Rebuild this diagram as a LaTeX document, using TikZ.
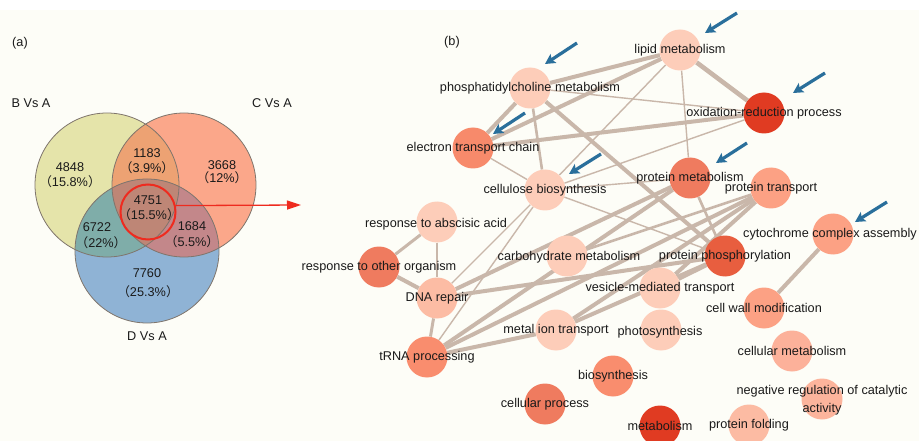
\documentclass[tikz,border=0pt]{standalone}
\usepackage{fontspec}
\setmainfont{Liberation Sans}
\newfontfamily\cjkf{Noto Sans CJK SC}
\usetikzlibrary{arrows.meta,backgrounds}
\definecolor{bgc}{HTML}{FDFDF7}
\definecolor{vB}{HTML}{E5E4AA}
\definecolor{vC}{HTML}{FBA78A}
\definecolor{vD}{HTML}{8FB3D5}
\definecolor{vBC}{HTML}{EDA273}
\definecolor{vBD}{HTML}{7FADA9}
\definecolor{vCD}{HTML}{C3878A}
\definecolor{vBCD}{HTML}{BE8676}
\definecolor{vline}{HTML}{7F756C}
\definecolor{hubred}{HTML}{EE2B1F}
\definecolor{edgec}{HTML}{C9B7AA}
\definecolor{arrc}{HTML}{2A6F9B}
\definecolor{cLight}{HTML}{FDCDB9}
\definecolor{cDark}{HTML}{E03B22}
\definecolor{cETC}{HTML}{F78A6B}
\definecolor{cPM}{HTML}{EF7B5F}
\definecolor{cPT}{HTML}{FCA184}
\definecolor{cDNA}{HTML}{FCBCA4}
\definecolor{cPP}{HTML}{E85E3F}
\definecolor{cCM}{HTML}{FCB19A}
\definecolor{cTR}{HTML}{F98D6E}
\definecolor{cNR}{HTML}{FCB49C}
\definecolor{cPF}{HTML}{FCBBA3}
\definecolor{txt}{HTML}{1A1A1A}
\begin{document}
\begin{tikzpicture}[x=1pt,y=-1pt,
  every node/.style={font=\fontsize{12.7}{15}\selectfont, text=txt},
  go/.style={circle,minimum size=41pt,inner sep=0pt,draw=none},
  lab/.style={inner sep=0pt},
  vl/.style={inner sep=0pt},
  eA/.style={draw=edgec,line width=1.4pt},
  eB/.style={draw=edgec,line width=2.6pt},
  eC/.style={draw=edgec,line width=4pt},
  barrow/.style={draw=arrc,line width=3.2pt,-{Stealth[length=10pt,width=10.5pt,inset=2pt]}},
  vcirc/.style={draw=vline,line width=0.8pt}]
\useasboundingbox (0,0) rectangle (919,441);
\begin{scope}[on background layer]
  \fill[white] (0,0) rectangle (919,441);
  \fill[bgc] (0,10) rectangle (919,441);
\end{scope}

% ---------- Venn (a)
\fill[vB] (107,185) circle (72pt);
\fill[vC] (184,185) circle (72pt);
\fill[vD] (147,251) circle (72pt);
\begin{scope}
  \clip (107,185) circle (72pt);
  \fill[vBC] (184,185) circle (72pt);
  \fill[vBD] (147,251) circle (72pt);
\end{scope}
\begin{scope}
  \clip (184,185) circle (72pt);
  \fill[vCD] (147,251) circle (72pt);
  \clip (107,185) circle (72pt);
  \fill[vBCD] (147,251) circle (72pt);
\end{scope}
\draw[vcirc] (107,185) circle (72pt);
\draw[vcirc] (184,185) circle (72pt);
\draw[vcirc] (147,251) circle (72pt);

\node[vl] (la) at (20,43) {(a)};
\node[vl] (lB) at (31,103) {B Vs A};
\node[vl] (lC) at (272,103) {C Vs A};
\node[vl] (lD) at (147,336) {D Vs A};
\node[vl] (n1a) at (70,167) {4848};
\node[vl] (n1b) at (70,182) {{\cjkf （}15.8\%{\cjkf ）}};
\node[vl] (n2a) at (147,153) {1183};
\node[vl] (n2b) at (147,168) {{\cjkf （}3.9\%{\cjkf ）}};
\node[vl] (n3a) at (222,165) {3668};
\node[vl] (n3b) at (222,178) {{\cjkf （}12\%{\cjkf ）}};
\node[vl] (n4a) at (148,200) {4751};
\node[vl] (n4b) at (149,215) {{\cjkf （}15.5\%{\cjkf ）}};
\node[vl] (n5a) at (97,227) {6722};
\node[vl] (n5b) at (101,243) {{\cjkf （}22\%{\cjkf ）}};
\node[vl] (n6a) at (192,226) {1684};
\node[vl] (n6b) at (192,242) {{\cjkf （}5.5\%{\cjkf ）}};
\node[vl] (n7a) at (147,273) {7760};
\node[vl] (n7b) at (148,292) {{\cjkf （}25.3\%{\cjkf ）}};

\node[circle,draw=hubred,line width=2pt,minimum size=55pt,inner sep=0pt] (hub) at (148,212) {};
\coordinate (hubend) at (301,205);
\draw[hubred,line width=1.3pt,-{Triangle[length=14pt,width=9pt]}] (hub.13) -- (hubend);

% ---------- network (b)
\node[lab] (lb) at (452,42) {(b)};

\node[go,fill=cLight] (lip) at (680,50) {};
\node[go,fill=cLight] (pc) at (530,88) {};
\node[go,fill=cDark] (oxr) at (764,113) {};
\node[go,fill=cETC] (etc) at (473,148) {};
\node[go,fill=cLight] (cb) at (545,190) {};
\node[go,fill=cPM] (pm) at (690,178) {};
\node[go,fill=cPT] (pt) at (771,188) {};
\node[go,fill=cPT] (cyto) at (833,234) {};
\node[go,fill=cLight] (aba) at (437,222) {};
\node[go,fill=cPM] (rtoo) at (379,267) {};
\node[go,fill=cDNA] (dna) at (437,298) {};
\node[go,fill=cLight] (carb) at (567,256) {};
\node[go,fill=cPP] (pp) at (725,256) {};
\node[go,fill=cLight] (ves) at (660,288) {};
\node[go,fill=cLight] (mit) at (556,330) {};
\node[go,fill=cLight] (pho) at (661,330) {};
\node[go,fill=cPT] (cwm) at (764,308) {};
\node[go,fill=cCM] (cmet) at (792,351) {};
\node[go,fill=cTR] (trna) at (427,357) {};
\node[go,fill=cTR] (bio) at (613,376) {};
\node[go,fill=cNR] (neg) at (822,399) {};
\node[go,fill=cPM] (cproc) at (545,404) {};
\node[go,fill=cDark] (met) at (660,426) {};
\node[go,fill=cPF] (pf) at (749,425) {};

\begin{scope}[on background layer]
  % thick
  \draw[eC] (pc) -- (lip);
  \draw[eC] (etc) -- (lip);
  \draw[eC] (etc) -- (oxr);
  \draw[eC,line width=4.6pt] (lip) -- (oxr);
  \draw[eC] (pc) -- (etc);
  \draw[eC] (pc) -- (pp);
  \draw[eC] (dna) -- (pm);
  \draw[eC] (dna) -- (pp);
  \draw[eC] (rtoo) -- (dna);
  \draw[eC] (trna) -- (mit);
  \draw[eC] (trna) -- (pt);
  \draw[eC] (trna) -- (pm);
  \draw[eC] (mit) -- (pt);
  \draw[eC] (mit) -- (pp);
  \draw[eC] (ves) -- (pt);
  \draw[eC] (ves) -- (pp);
  \draw[eC] (cyto) -- (cwm);
  % medium
  \draw[eB] (pc) -- (cb);
  \draw[eB,line width=3pt] (aba) -- (rtoo);
  \draw[eB] (aba) -- (dna);
  \draw[eB,line width=3pt] (dna) -- (trna);
  \draw[eB] (pm) -- (pp);
  \draw[eB] (carb) -- (pt);
  % thin
  \draw[eA] (pc) -- (oxr);
  \draw[eA] (lip) -- (cb);
  \draw[eA] (lip) -- (pm);
  \draw[eA] (etc) -- (cb);
  \draw[eA] (cb) -- (oxr);
  \draw[eA] (cb) -- (pm);
  \draw[eA] (cb) -- (pp);
  \draw[eA] (cb) -- (dna);
  \draw[eA] (cb) -- (trna);
\end{scope}

% labels
\node[lab] (t-lip) at (lip) {lipid metabolism};
\node[lab] (t-pc) at (pc) {phosphatidylcholine metabolism};
\node[lab] (t-oxr) at (oxr) {oxidation-reduction process};
\node[lab] (t-etc) at (etc) {electron transport chain};
\node[lab] (t-cb) at (cb) {cellulose biosynthesis};
\node[lab] (t-pm) at (pm) {protein metabolism};
\node[lab] (t-pt) at (pt) {protein transport};
\node[lab] (t-cyto) at (830,234) {cytochrome complex assembly};
\node[lab] (t-aba) at (436,224) {response to abscisic acid};
\node[lab] (t-rtoo) at (rtoo) {response to other organism};
\node[lab] (t-dna) at (dna) {DNA repair};
\node[lab] (t-carb) at (569,257) {carbohydrate metabolism};
\node[lab] (t-pp) at (pp) {protein phosphorylation};
\node[lab] (t-ves) at (ves) {vesicle-mediated transport};
\node[lab] (t-mit) at (mit) {metal ion transport};
\node[lab] (t-pho) at (660,332) {photosynthesis};
\node[lab] (t-cwm) at (cwm) {cell wall modification};
\node[lab] (t-cmet) at (cmet) {cellular metabolism};
\node[lab] (t-trna) at (trna) {tRNA processing};
\node[lab] (t-bio) at (bio) {biosynthesis};
\node[lab,align=center,font=\fontsize{12.7}{18}\selectfont] (t-neg) at (822,400) {negative regulation of catalytic\\activity};
\node[lab] (t-cproc) at (cproc) {cellular process};
\node[lab] (t-met) at (met) {metabolism};
\node[lab] (t-pf) at (pf) {protein folding};

% blue arrows
\coordinate (a1s) at (737,13);  \coordinate (a1e) at (705,33);
\coordinate (a2s) at (577,43);  \coordinate (a2e) at (545,64);
\coordinate (a3s) at (525,113); \coordinate (a3e) at (493,134);
\coordinate (a4s) at (601,154); \coordinate (a4e) at (569,174);
\coordinate (a5s) at (825,73);  \coordinate (a5e) at (793,93);
\coordinate (a6s) at (747,143); \coordinate (a6e) at (716,163);
\coordinate (a7s) at (887,202); \coordinate (a7e) at (855,222);
\foreach \i in {1,...,7} {\draw[barrow] (a\i s) -- (a\i e);}
\end{tikzpicture}
\end{document}
